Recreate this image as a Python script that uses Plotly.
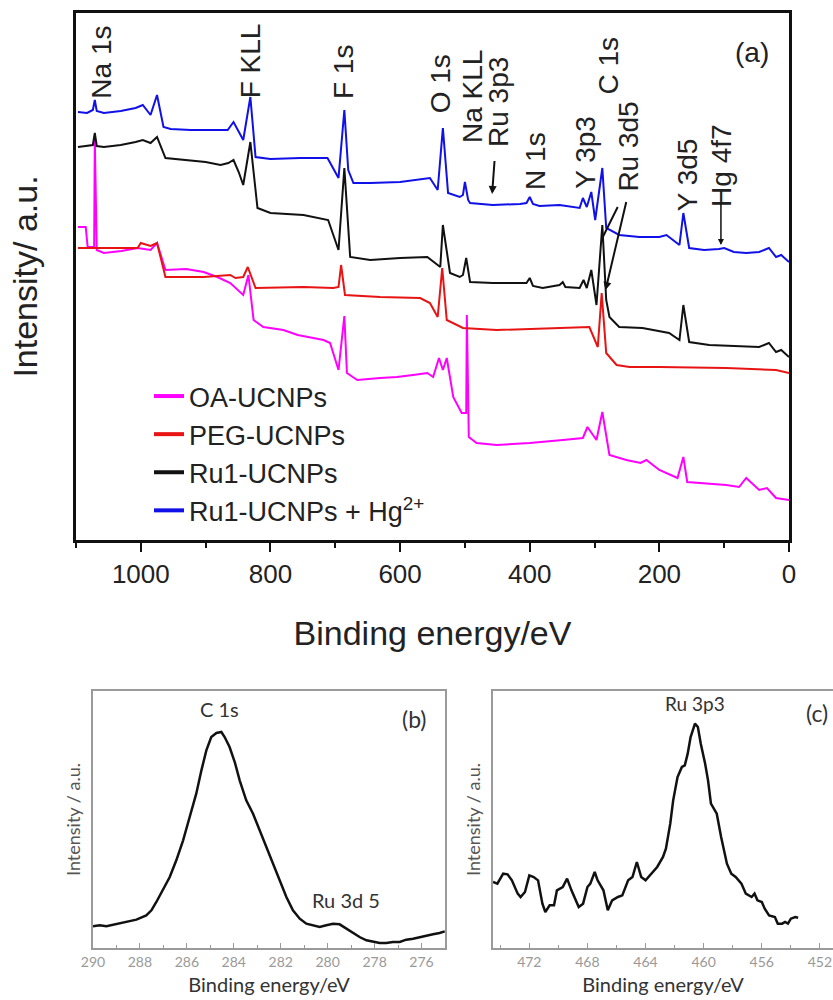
import plotly.graph_objects as go

# ---------------- Panel (a): XPS survey spectra ----------------
oa_E = [1097, 1085, 1082, 1072, 1071, 1068, 1057, 1030, 1005, 985, 975, 962, 930, 903, 882, 862, 842, 834, 826,
        811, 780, 758, 718, 708, 695, 686, 682, 666, 631, 605, 580, 558, 549, 540, 534, 528, 518,
        505, 498, 497, 494, 482, 451, 400, 349, 318, 311, 297, 288, 277, 251, 229, 220, 200, 172,
        163, 157, 97, 77, 66, 46, 34, 20, 0]
oa_I = [313, 313, 293, 293, 400, 290, 287, 289, 292, 290, 297, 270, 271, 268, 263, 257, 245, 265, 220,
        213, 210, 205, 200, 197, 170, 224, 167, 160, 162, 163, 165, 167, 163, 182, 170, 182, 143,
        127, 127, 225, 103, 97, 95, 97, 100, 102, 113, 100, 128, 85, 80, 77, 80, 70, 62,
        83, 58, 55, 53, 62, 50, 52, 42, 40]

peg_E = [1097, 1062, 1031, 1005, 1000, 985, 975, 962, 903, 862, 854, 842, 835, 823, 749, 703, 695,
         691, 685, 631, 569, 554, 542, 535, 528, 503, 451, 400, 308, 295, 289, 282, 266, 246, 200,
         97, 20, 0]
peg_I = [292, 292, 292, 292, 297, 294, 297, 263, 263, 265, 262, 263, 273, 252, 253, 252, 253,
         275, 245, 243, 242, 237, 223, 272, 220, 212, 210, 211, 213, 193, 247, 187, 175, 173, 173,
         172, 170, 167]

ru_E = [1097, 1083, 1074, 1071, 1068, 1057, 1031, 1008, 997, 985, 975, 962, 928, 900, 877, 865, 857,
        849, 842, 831, 820, 800, 749, 711, 695, 686, 677, 646, 600, 558, 538, 534, 523, 508, 503,
        498, 492, 457, 405, 400, 395, 380, 354, 349, 345, 323, 317, 312, 305, 297, 288, 282, 277,
        262, 226, 185, 169, 163, 154, 123, 46, 31, 20, 12, 0]
ru_I = [393, 394, 395, 407, 394, 393, 395, 398, 400, 397, 403, 382, 380, 378, 375, 377, 380,
        368, 355, 398, 332, 327, 325, 320, 290, 372, 283, 280, 282, 283, 273, 315, 267, 263, 265,
        282, 258, 257, 257, 262, 254, 252, 255, 258, 253, 252, 260, 252, 270, 235, 315, 240, 223,
        213, 212, 207, 200, 235, 198, 195, 193, 197, 188, 190, 183]

hg_E = [1097, 1083, 1074, 1071, 1068, 1057, 1031, 1008, 997, 985, 975, 965, 954, 923, 892, 866,
        857, 849, 842, 831, 823, 800, 754, 712, 695, 686, 680, 672, 646, 600, 554, 542, 534, 526,
        508, 503, 500, 495, 492, 457, 415, 405, 400, 395, 385, 354, 323, 318, 312, 305, 299, 288,
        282, 262, 231, 200, 189, 169, 163, 154, 131, 108, 100, 85, 66, 46, 31, 20, 12, 0]
hg_I = [428, 427, 430, 440, 429, 427, 429, 432, 435, 425, 445, 413, 411, 410, 410, 410,
        418, 408, 400, 443, 383, 381, 382, 382, 362, 430, 370, 357, 357, 358, 362, 350, 412, 347,
        343, 345, 358, 340, 337, 335, 336, 337, 343, 336, 334, 335, 332, 342, 333, 348, 320, 372,
        312, 305, 303, 303, 305, 295, 327, 292, 290, 291, 292, 288, 287, 288, 292, 283, 285, 278]

series_names = ["OA-UCNPs", "PEG-UCNPs", "Ru1-UCNPs", "Ru1-UCNPs + Hg<sup>2+</sup>"]
series_colors = ["#ff00ff", "#e81414", "#111111", "#1010e8"]

# peak labels for panel (a): text, energy, intensity
peak_text = ["Na 1s", "F KLL", "F 1s", "O 1s", "Na KLL", "Ru 3p3", "N 1s", "Y 3p3", "C 1s",
             "Ru 3d5", "Y 3d5", "Hg 4f7"]
peak_E = [1062, 831, 688, 538, 489, 449, 392, 315, 280, 249, 157, 105]
peak_I = [478, 479, 468, 456, 443, 438, 379, 388, 474, 393, 365, 375]

# ---------------- Panel (b): C 1s high resolution ----------------
b_E = [290.00, 289.72, 289.43, 289.01, 288.58, 288.15, 287.73, 287.51, 287.30, 287.02, 286.73,
       286.45, 286.16, 285.88, 285.60, 285.38, 285.17, 284.96, 284.74, 284.53, 284.39, 284.18,
       283.96, 283.75, 283.47, 283.18, 282.90, 282.61, 282.33, 282.05, 281.76, 281.48, 281.19,
       280.91, 280.63, 280.34, 280.06, 279.77, 279.49, 279.20, 278.92, 278.64, 278.35, 278.07,
       277.78, 277.50, 277.22, 276.93, 276.65, 276.36, 276.08, 275.80, 275.51, 275.23, 275.01]
b_I = [65, 68, 65, 71, 78, 85, 98, 113, 138, 173, 213, 263, 323, 393, 463, 533, 593, 633, 645,
       648, 633, 603, 558, 503, 443, 403, 353, 303, 253, 203, 153, 113, 88, 73, 67, 63, 68, 73,
       71, 58, 43, 33, 23, 18, 15, 15, 18, 18, 25, 28, 33, 38, 41, 45, 50]

# ---------------- Panel (c): Ru 3p3 high resolution ----------------
c_E = [474.5, 474.2, 473.8, 473.5, 473.2, 472.8, 472.6, 472.3, 472.0, 471.7, 471.4, 471.1, 470.9,
       470.6, 470.3, 470.1, 469.7, 469.4, 469.1, 468.9, 468.6, 468.3, 468.0, 467.8, 467.5, 467.3,
       466.9, 466.6, 466.3, 465.9, 465.6, 465.2, 464.9, 464.6, 464.3, 464.0, 463.6, 463.2, 462.8,
       462.6, 462.3, 462.1, 461.8, 461.5, 461.3, 461.1, 460.9, 460.6, 460.4, 460.2, 459.9, 459.7,
       459.5, 459.1, 458.8, 458.4, 458.1, 457.8, 457.4, 457.1, 456.7, 456.5, 456.3, 456.0, 455.8,
       455.5, 455.1, 454.9, 454.6, 454.4, 454.2, 454.0, 453.7, 453.5]
c_I = [198, 193, 223, 221, 203, 163, 153, 168, 218, 213, 203, 133, 108, 128, 128, 173, 183, 208,
       173, 153, 123, 133, 183, 193, 228, 203, 173, 113, 143, 153, 158, 203, 213, 258, 213, 203,
       223, 243, 273, 298, 373, 443, 513, 543, 548, 583, 633, 673, 663, 613, 553, 503, 433, 403,
       333, 253, 223, 213, 193, 163, 153, 163, 143, 138, 118, 98, 93, 73, 73, 78, 73, 88, 93, 91]

main_ticks = [0, 200, 400, 600, 800, 1000]
b_ticks = [290, 288, 286, 284, 282, 280, 278, 276]
c_ticks = [472, 468, 464, 460, 456, 452]

FONT = "Liberation Sans, Arial, sans-serif"
SFONT = "Lato, Liberation Sans, sans-serif"

fig = go.Figure()
for E, I, name, col in zip([oa_E, peg_E, ru_E, hg_E], [oa_I, peg_I, ru_I, hg_I],
                           series_names, series_colors):
    fig.add_trace(go.Scatter(x=E, y=I, mode="lines", name=name, legendgroup=name,
                             showlegend=False, line=dict(color=col, width=2),
                             xaxis="x", yaxis="y"))
# legend entries (thicker legend keys, as in the reference)
for name, col in zip(series_names, series_colors):
    fig.add_trace(go.Scatter(x=[None], y=[None], mode="lines", name=name, legendgroup=name,
                             line=dict(color=col, width=4), xaxis="x", yaxis="y"))

fig.add_trace(go.Scatter(x=b_E, y=b_I, mode="lines", showlegend=False,
                         line=dict(color="#111111", width=2.5), xaxis="x2", yaxis="y2"))
fig.add_trace(go.Scatter(x=c_E, y=c_I, mode="lines", showlegend=False,
                         line=dict(color="#111111", width=2.5), xaxis="x3", yaxis="y3"))

annotations = []
for t, e, i in zip(peak_text, peak_E, peak_I):
    annotations.append(dict(text=t, x=e, y=i, xref="x", yref="y", textangle=-90,
                            showarrow=False, xanchor="center", yanchor="middle",
                            font=dict(family=FONT, size=28, color="#222222")))
# pointer lines
def pointer(x, y, ax, ay, head, width=2):
    return dict(xref="x", yref="y", axref="x", ayref="y", text=" ", showarrow=True,
                x=x, y=y, ax=ax, ay=ay, arrowhead=head, arrowsize=0.8,
                arrowcolor="#111111", arrowwidth=width, font=dict(size=2))

annotations.append(pointer(458, 346, 454, 382, 2))
annotations.append(pointer(288, 302, 262, 336, 0))
annotations.append(pointer(283, 250, 250, 341, 2))
annotations.append(pointer(105, 295, 105, 340, 2, 1.5))
annotations.append(dict(text="(a)", x=57, y=488, xref="x", yref="y", showarrow=False,
                        font=dict(family=FONT, size=28, color="#222222")))

# panel (b) labels
annotations.append(dict(text="C 1s", x=284.6, y=718, xref="x2", yref="y2", showarrow=False,
                        font=dict(family=SFONT, size=20, color="#333333")))
annotations.append(dict(text="Ru 3d 5", x=279.2, y=145, xref="x2", yref="y2", showarrow=False,
                        font=dict(family=SFONT, size=20, color="#333333")))
annotations.append(dict(text="(b)", x=276.3, y=688, xref="x2", yref="y2", showarrow=False,
                        font=dict(family=SFONT, size=23, color="#333333")))
# panel (c) labels
annotations.append(dict(text="Ru 3p3", x=460.6, y=733, xref="x3", yref="y3", showarrow=False,
                        font=dict(family=SFONT, size=19, color="#333333")))
annotations.append(dict(text="(c)", x=452.2, y=706, xref="x3", yref="y3", showarrow=False,
                        font=dict(family=SFONT, size=23, color="#333333")))

W, H = 833, 1000
fig.update_layout(
    width=W, height=H,
    margin=dict(l=0, r=0, t=0, b=0, autoexpand=False),
    paper_bgcolor="white", plot_bgcolor="white",
    showlegend=True,
    legend=dict(x=149 / W, y=1 - 372 / H, xanchor="left", yanchor="top",
                font=dict(family=FONT, size=27, color="#222222"),
                bgcolor="rgba(0,0,0,0)", traceorder="normal"),
    annotations=annotations,
    xaxis=dict(domain=[76 / W, 789 / W], anchor="y", range=[1100, 0], automargin=False,
               tickvals=main_ticks, ticks="outside", ticklen=9, tickwidth=2, tickcolor="#111",
               minor=dict(dtick=100, tick0=0, ticks="outside", ticklen=5, tickwidth=2, tickcolor="#111"),
               showline=True, linewidth=2.5, linecolor="#111", mirror=True,
               showgrid=False, zeroline=False,
               tickfont=dict(family=FONT, size=26, color="#222"),
               title=dict(text="Binding energy/eV", font=dict(family=FONT, size=34, color="#222"),
                          standoff=34)),
    yaxis=dict(domain=[1 - 540 / H, 1 - 13 / H], anchor="x", range=[0, 527], automargin=False,
               showticklabels=False, ticks="", showline=True, linewidth=2.5, linecolor="#111",
               mirror=True, showgrid=False, zeroline=False,
               title=dict(text="Intensity/ a.u.", font=dict(family=FONT, size=34, color="#222"),
                          standoff=26)),
    xaxis2=dict(domain=[93 / W, 445 / W], anchor="y2", range=[290, 275], automargin=False,
                tickvals=b_ticks, ticks="inside", ticklen=5, tickwidth=1, tickcolor="#999",
                minor=dict(dtick=1, ticks="inside", ticklen=3, tickwidth=1, tickcolor="#999"),
                showline=True, linewidth=1.5, linecolor="#9a9a9a", mirror=True,
                showgrid=False, zeroline=False,
                tickfont=dict(family=SFONT, size=14, color="#999"),
                title=dict(text="Binding energy/eV", font=dict(family=SFONT, size=20, color="#333"),
                           standoff=9)),
    yaxis2=dict(domain=[1 - 948 / H, 1 - 691 / H], anchor="x2", range=[0, 771], automargin=False,
                showticklabels=False, ticks="", showline=True, linewidth=1.5, linecolor="#9a9a9a",
                mirror=True, showgrid=False, zeroline=False,
                title=dict(text="Intensity / a.u.", font=dict(family=SFONT, size=18, color="#555"),
                           standoff=6)),
    xaxis3=dict(domain=[493 / W, 1.0], anchor="y3", range=[474.5, 451.1], automargin=False,
                tickvals=c_ticks, ticks="inside", ticklen=5, tickwidth=1, tickcolor="#999",
                minor=dict(dtick=2, tick0=450, ticks="inside", ticklen=3, tickwidth=1, tickcolor="#999"),
                showline=True, linewidth=1.5, linecolor="#9a9a9a", mirror=True,
                showgrid=False, zeroline=False,
                tickfont=dict(family=SFONT, size=14, color="#999"),
                title=dict(text="Binding energy/eV", font=dict(family=SFONT, size=20, color="#333"),
                           standoff=9)),
    yaxis3=dict(domain=[1 - 948 / H, 1 - 691 / H], anchor="x3", range=[0, 771], automargin=False,
                showticklabels=False, ticks="", showline=True, linewidth=1.5, linecolor="#9a9a9a",
                mirror=False, showgrid=False, zeroline=False,
                title=dict(text="Intensity / a.u.", font=dict(family=SFONT, size=18, color="#555"),
                           standoff=6)),
)

fig.write_html("out.html", config={"displayModeBar": False},
               post_script="document.body.style.margin='0px';")
